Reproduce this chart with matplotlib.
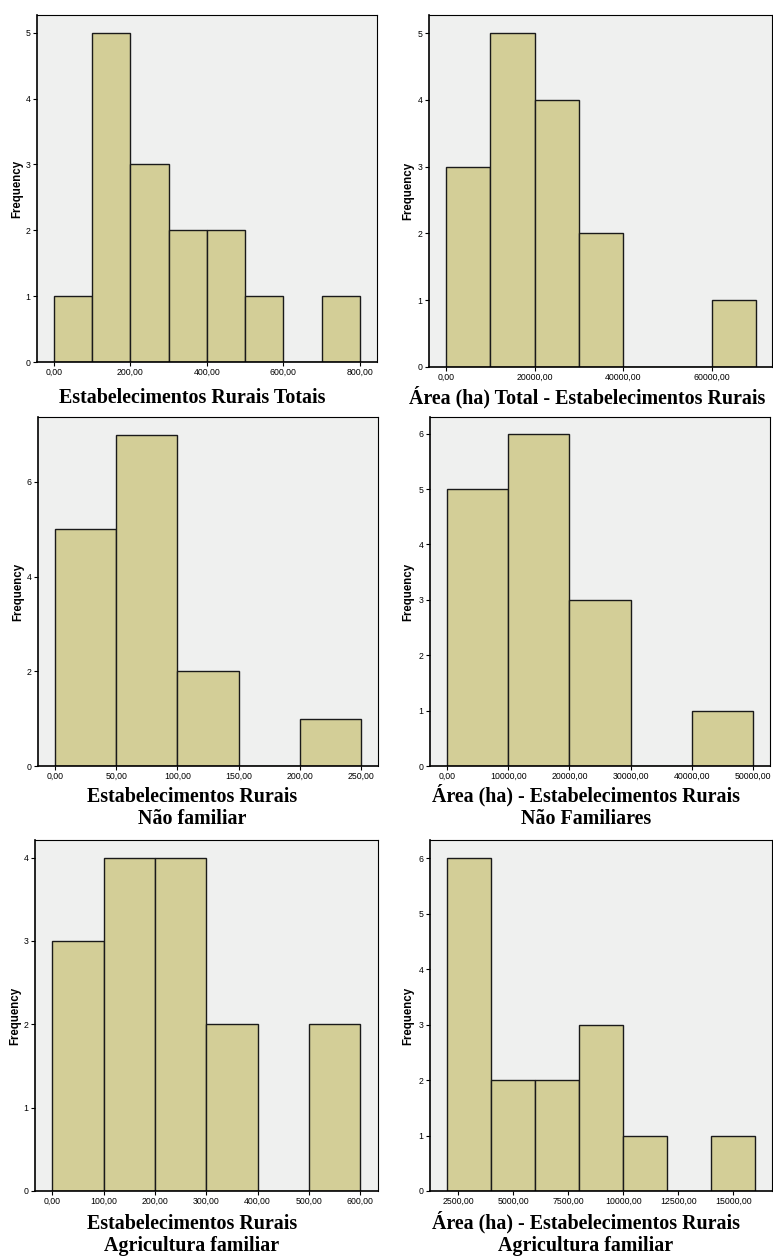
import matplotlib
matplotlib.use('Agg')
import matplotlib.pyplot as plt
import numpy as np
from matplotlib.ticker import FuncFormatter

# histogram bins (left edges) and counts
edges_tot = [0, 100, 200, 300, 400, 500, 600, 700]
counts_tot = [1, 5, 3, 2, 2, 1, 0, 1]

edges_area_tot = [0, 10000, 20000, 30000, 40000, 50000, 60000]
counts_area_tot = [3, 5, 4, 2, 0, 0, 1]

edges_nf = [0, 50, 100, 150, 200]
counts_nf = [5, 7, 2, 0, 1]

edges_area_nf = [0, 10000, 20000, 30000, 40000]
counts_area_nf = [5, 6, 3, 0, 1]

edges_af = [0, 100, 200, 300, 400, 500]
counts_af = [3, 4, 4, 2, 0, 2]

edges_area_af = [2000, 4000, 6000, 8000, 10000, 12000, 14000]
counts_area_af = [6, 2, 2, 3, 1, 0, 1]

W, H = 773, 1256
BAR = '#d3ce97'
BG = '#eff0ef'


def px_rect(l, t, r, b):
    return [l / W, 1 - b / H, (r - l) / W, (b - t) / H]


def comma(v, pos):
    return ('%.2f' % v).replace('.', ',')


def draw_hist(ax, edges, counts, width, xlim, ylim, xticks, yticks):
    ax.set_facecolor(BG)
    ax.bar(edges, counts, width, align='edge', color=BAR,
           edgecolor='#1a1a1a', linewidth=1.0, zorder=2)
    ax.set_xlim(*xlim)
    ax.set_ylim(*ylim)
    ax.set_xticks(xticks)
    ax.set_yticks(yticks)
    ax.xaxis.set_major_formatter(FuncFormatter(comma))
    ax.tick_params(axis='both', labelsize=6.3, length=3, width=0.8,
                   pad=1.5, colors='black')
    for s in ['left', 'bottom']:
        ax.spines[s].set_linewidth(1.2)
    for s in ['top', 'right']:
        ax.spines[s].set_linewidth(0.8)
    for s in ax.spines.values():
        s.set_color('black')


def labels(ax, rect, label, lx, ly, fx):
    # ly is the baseline of the last line of the label, in pixels
    l, t, r, b = rect
    ax.text((lx - l) / (r - l), (b - ly) / (b - t), label, transform=ax.transAxes,
            ha='center', va='baseline', fontsize=14.4, fontweight='bold',
            family='Liberation Serif', linespacing=1.15, clip_on=False)
    ax.text((fx - l) / (r - l), 0.5, 'Frequency', transform=ax.transAxes,
            ha='center', va='center', rotation=90, fontsize=8.3,
            fontweight='bold', family='Liberation Sans', clip_on=False)


plt.rcParams['font.family'] = ['Liberation Sans', 'DejaVu Sans']
fig = plt.figure(figsize=(W / 100, H / 100), dpi=100)

panels = [
    dict(rect=(37, 15, 377, 362), edges=edges_tot, counts=counts_tot, width=100,
         xlim=(-44.5, 845), ylim=(0, 5.27), xticks=np.arange(0, 801, 200),
         yticks=range(0, 6), label='Estabelecimentos Rurais Totais',
         lx=192, ly=403, fx=17),
    dict(rect=(429, 15, 772, 367), edges=edges_area_tot, counts=counts_area_tot,
         width=10000, xlim=(-3830, 73500), ylim=(0, 5.27),
         xticks=np.arange(0, 60001, 20000), yticks=range(0, 6),
         label='Área (ha) Total - Estabelecimentos Rurais',
         lx=587, ly=403, fx=408),
    dict(rect=(38, 417, 378, 766), edges=edges_nf, counts=counts_nf, width=50,
         xlim=(-13.9, 264), ylim=(0, 7.37), xticks=np.arange(0, 251, 50),
         yticks=[0, 2, 4, 6], label='Estabelecimentos Rurais\nNão familiar',
         lx=192, ly=824, fx=18),
    dict(rect=(430, 417, 770, 766), edges=edges_area_nf, counts=counts_area_nf,
         width=10000, xlim=(-2780, 52780), ylim=(0, 6.3),
         xticks=np.arange(0, 50001, 10000), yticks=range(0, 7),
         label='Área (ha) - Estabelecimentos Rurais\nNão Familiares',
         lx=586, ly=824, fx=408),
    dict(rect=(35, 840, 378, 1191), edges=edges_af, counts=counts_af, width=100,
         xlim=(-33.7, 634.7), ylim=(0, 4.21), xticks=np.arange(0, 601, 100),
         yticks=range(0, 5), label='Estabelecimentos Rurais\nAgricultura familiar',
         lx=192, ly=1251, fx=15),
    dict(rect=(430, 840, 772, 1191), edges=edges_area_af, counts=counts_area_af,
         width=2000, xlim=(1214, 16759), ylim=(0, 6.33),
         xticks=np.arange(2500, 15001, 2500), yticks=range(0, 7),
         label='Área (ha) - Estabelecimentos Rurais\nAgricultura familiar',
         lx=586, ly=1251, fx=408),
]

for p in panels:
    ax = fig.add_axes(px_rect(*p['rect']))
    draw_hist(ax, p['edges'], p['counts'], p['width'], p['xlim'], p['ylim'],
              p['xticks'], p['yticks'])
    labels(ax, p['rect'], p['label'], p['lx'], p['ly'], p['fx'])

fig.savefig('out.png', dpi=100)
